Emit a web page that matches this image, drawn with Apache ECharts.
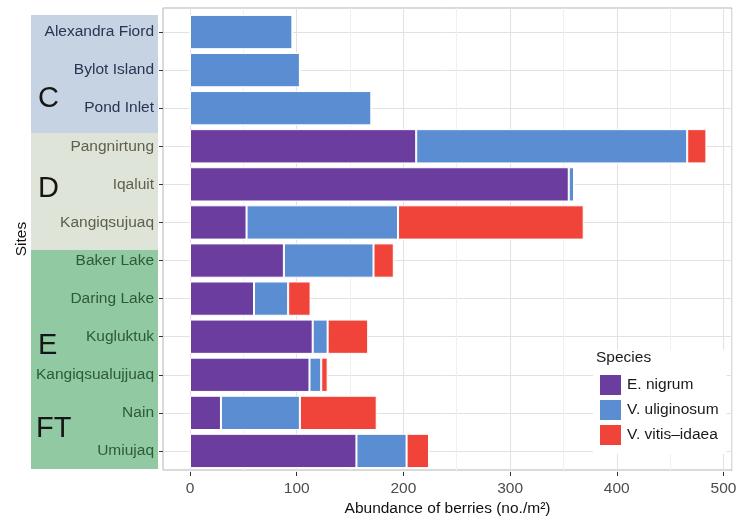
<!DOCTYPE html>
<html>
<head>
<meta charset="utf-8">
<script src="https://cdn.jsdelivr.net/npm/echarts@6/dist/echarts.min.js"></script>
<style>html,body{margin:0;padding:0;background:#fff;}#c{width:748px;height:522px;}</style>
</head>
<body>
<div id="c"></div>
<script>
// ---- data ----
const sites = ['Alexandra Fiord','Bylot Island','Pond Inlet','Pangnirtung','Iqaluit','Kangiqsujuaq',
  'Baker Lake','Daring Lake','Kugluktuk','Kangiqsualujjuaq','Nain','Umiujaq'];
const siteGroup = ['C','C','C','D','D','D','E','E','E','E','FT','FT'];
const speciesNames = ['E. nigrum','V. uliginosum','V. vitis\u2013idaea'];
const eNigrum      = [0, 0, 0, 212, 355, 53, 88, 60, 115, 112, 29, 156];
const vUliginosum  = [96, 103, 170, 254, 5, 142, 84, 32, 14, 11, 74, 47];
const vVitisIdaea  = [0, 0, 0, 18, 0, 174, 19, 21, 38, 6, 72, 21];
const xTicks = [0, 100, 200, 300, 400, 500];

const colors = ['#6a3d9e', '#5b8dd3', '#f0433a'];
const groupLabelColor = {C:'#273553', D:'#5e604d', E:'#2d5a38', FT:'#2d5a38'};
const FONT = 'Liberation Sans';
const XMAX = 508;

const chart = echarts.init(document.getElementById('c'), null, {renderer:'canvas'});

function bar(name, data, color){
  return {
    name: name, type: 'bar', stack: 'total', xAxisIndex: 4, yAxisIndex: 3,
    data: data, barWidth: '90%',
    itemStyle: {color: color, borderColor: '#ffffff', borderWidth: 1},
    emphasis: {disabled: true}
  };
}

const option = {
  animation: false,
  backgroundColor: '#ffffff',
  textStyle: {fontFamily: FONT},
  grid: [
    {left: 163, right: 16, top: 8, bottom: 50, show: true, borderColor: '#b5b5b5', borderWidth: 1, backgroundColor: 'transparent'},
    {left: 190, right: 16, top: 8, bottom: 50},
    {left: 163, right: 16, top: 32, bottom: 71},
    {left: 190, right: 16, top: 13, bottom: 52}
  ],
  xAxis: [
    {gridIndex: 0, type: 'value', min: 0, max: 1, axisLine: {show: false}, axisTick: {show: false},
     axisLabel: {show: false}, splitLine: {show: false},
     name: 'Abundance of berries (no./m\u00B2)', nameLocation: 'middle', nameGap: 31,
     nameTextStyle: {fontSize: 15.5, color: '#111', fontFamily: FONT}},
    {gridIndex: 1, type: 'value', position: 'bottom', min: 0, max: XMAX, interval: 50,
     axisLine: {show: false}, axisTick: {show: false}, axisLabel: {show: false},
     splitLine: {show: true, lineStyle: {color: ['#e2e2e2', '#f0f0f0'], width: 1}}},
    {gridIndex: 1, type: 'value', position: 'bottom', min: 0, max: XMAX, interval: 100,
     axisLine: {show: false},
     axisTick: {show: true, length: 4, lineStyle: {color: '#333'}, customValues: xTicks},
     axisLabel: {show: true, margin: 9, fontSize: 15.5, color: '#4d4d4d', fontFamily: FONT, customValues: xTicks,
       formatter: v => (v % 100 === 0 ? String(v) : '')},
     splitLine: {show: false}},
    {gridIndex: 2, type: 'value', show: false},
    {gridIndex: 3, type: 'value', min: 0, max: XMAX, show: false}
  ],
  yAxis: [
    {gridIndex: 0, type: 'value', min: 0, max: 1, axisLine: {show: false}, axisTick: {show: false},
     axisLabel: {show: false}, splitLine: {show: false},
     name: 'Sites', nameLocation: 'middle', nameRotate: 90, nameGap: 133,
     nameTextStyle: {fontSize: 15.5, color: '#111', fontFamily: FONT}},
    {gridIndex: 1, type: 'value', show: false},
    {gridIndex: 2, type: 'category', data: sites, inverse: true, boundaryGap: false,
     axisLine: {show: false},
     axisTick: {show: true, length: 4, lineStyle: {color: '#333'}},
     axisLabel: {show: false},
     splitLine: {show: true, lineStyle: {color: '#e2e2e2', width: 1}}},
    {gridIndex: 3, type: 'category', data: sites, inverse: true, z: 5,
     axisLine: {show: false},
     axisTick: {show: false},
     axisLabel: {show: true, margin: 36, fontSize: 15.5, fontFamily: FONT,
       color: (v, i) => groupLabelColor[siteGroup[sites.indexOf(v)]]},
     splitLine: {show: false}}
  ],
  legend: {
    orient: 'vertical', left: 593, top: 350, padding: [23, 8, 7, 5],
    backgroundColor: '#ffffff', itemWidth: 23, itemHeight: 22, itemGap: 1, icon: 'rect',
    data: speciesNames, selectedMode: false,
    textStyle: {fontSize: 15.5, color: '#1a1a1a', fontFamily: FONT}
  },
  title: {
    text: 'Species', left: 596, top: 350, padding: 0, z: 10,
    textStyle: {fontSize: 15.5, fontWeight: 'normal', color: '#1a1a1a', fontFamily: FONT}
  },
  graphic: {elements: [
    {type: 'rect', z: -1, shape: {x: 31, y: 15, width: 127, height: 118}, style: {fill: '#c6d3e2'}},
    {type: 'rect', z: -1, shape: {x: 31, y: 133, width: 127, height: 117}, style: {fill: '#dfe4d8'}},
    {type: 'rect', z: -1, shape: {x: 31, y: 250, width: 127, height: 219}, style: {fill: '#91c9a3'}},
    {type: 'text', z: 1, style: {text: 'C', x: 38, y: 99, font: '29px "Liberation Sans"', verticalAlign: 'middle', fill: '#161616'}},
    {type: 'text', z: 1, style: {text: 'D', x: 38, y: 189, font: '29px "Liberation Sans"', verticalAlign: 'middle', fill: '#161616'}},
    {type: 'text', z: 1, style: {text: 'E', x: 38, y: 346, font: '29px "Liberation Sans"', verticalAlign: 'middle', fill: '#161616'}},
    {type: 'text', z: 1, style: {text: 'FT', x: 36, y: 429, font: '29px "Liberation Sans"', verticalAlign: 'middle', fill: '#161616'}}
  ]},
  series: [
    bar(speciesNames[0], eNigrum, colors[0]),
    bar(speciesNames[1], vUliginosum, colors[1]),
    bar(speciesNames[2], vVitisIdaea, colors[2])
  ]
};
chart.setOption(option);
</script>
</body>
</html>
